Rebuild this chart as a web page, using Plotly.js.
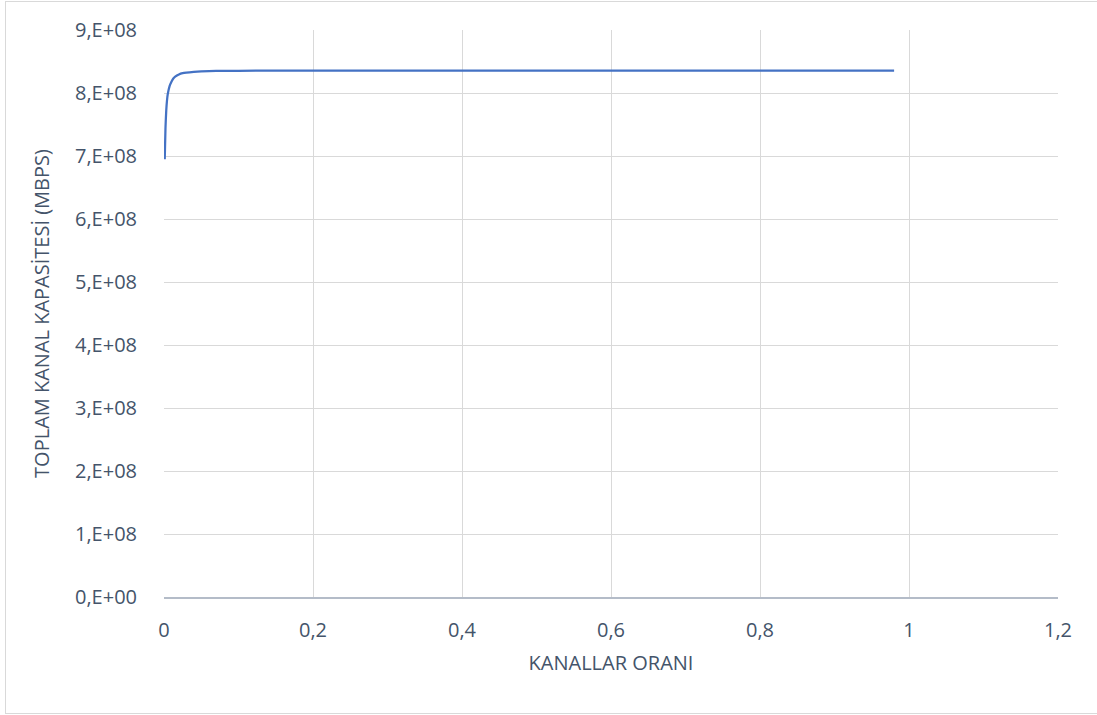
<!DOCTYPE html>
<html>
<head>
<meta charset="utf-8">
<script src="https://cdn.plot.ly/plotly-3.0.1.min.js"></script>
<style>
html,body{margin:0;padding:0;background:#fff;}
#wrap{position:relative;width:1097px;height:715px;}
#chart{position:absolute;left:0;top:0;width:1097px;height:715px;}
#frame{position:absolute;left:5px;top:1px;width:1100px;height:713px;border:1px solid #D9D9D9;pointer-events:none;box-sizing:border-box;}
</style>
</head>
<body>
<div id="wrap"><div id="chart"></div><div id="frame"></div></div>
<script>
// Data
const kanallarOrani = [0.001, 0.002, 0.003, 0.004, 0.005, 0.0075, 0.01, 0.0125, 0.015, 0.02, 0.025, 0.03, 0.04, 0.05, 0.07, 0.1, 0.2, 0.3, 0.4, 0.5, 0.6, 0.7, 0.8, 0.9, 0.98];
const kapasite = [6.95e8, 7.45e8, 7.72e8, 7.88e8, 7.98e8, 8.11e8, 8.18e8, 8.23e8, 8.26e8, 8.295e8, 8.315e8, 8.325e8, 8.337e8, 8.344e8, 8.35e8, 8.353e8, 8.355e8, 8.355e8, 8.355e8, 8.355e8, 8.355e8, 8.355e8, 8.355e8, 8.355e8, 8.355e8];
const yTickVals = [0, 1e8, 2e8, 3e8, 4e8, 5e8, 6e8, 7e8, 8e8, 9e8];
const yTickText = ["0,E+00", "1,E+08", "2,E+08", "3,E+08", "4,E+08", "5,E+08", "6,E+08", "7,E+08", "8,E+08", "9,E+08"];
const xTickVals = [0, 0.2, 0.4, 0.6, 0.8, 1, 1.2];
const xTickText = ["0", "0,2", "0,4", "0,6", "0,8", "1", "1,2"];
const xTitle = "KANALLAR ORANI";
const yTitle = "TOPLAM KANAL KAPASİTESİ (MBPS)";

const textColor = "#44546A";
const fontFam = "'Open Sans', sans-serif";
const fs = 20;

Plotly.newPlot("chart", [{
  x: kanallarOrani,
  y: kapasite,
  type: "scatter",
  mode: "lines",
  line: {color: "#4472C4", width: 2.25, shape: "spline", smoothing: 0.6},
  hoverinfo: "skip"
}], {
  width: 1097,
  height: 715,
  margin: {l: 164, r: 39, t: 30, b: 118},
  paper_bgcolor: "#fff",
  plot_bgcolor: "#fff",
  showlegend: false,
  font: {family: fontFam, size: fs, color: textColor},
  xaxis: {
    range: [0, 1.2],
    tickvals: xTickVals,
    ticktext: xTickText,
    showgrid: true,
    gridcolor: "#D9D9D9",
    gridwidth: 1,
    zeroline: false,
    showline: true,
    linecolor: "#B4BCC8",
    linewidth: 1.5,
    ticks: "outside",
    ticklen: 14,
    tickcolor: "rgba(0,0,0,0)",
    tickfont: {family: fontFam, size: fs, color: textColor},
    title: {text: xTitle, font: {family: fontFam, size: fs, color: textColor}, standoff: 14}
  },
  yaxis: {
    range: [0, 9e8],
    tickvals: yTickVals,
    ticktext: yTickText,
    showgrid: true,
    gridcolor: "#D9D9D9",
    gridwidth: 1,
    zeroline: false,
    showline: false,
    ticks: "outside",
    ticklen: 22,
    tickcolor: "rgba(0,0,0,0)",
    tickfont: {family: fontFam, size: fs, color: textColor},
    title: {text: yTitle, font: {family: fontFam, size: fs, color: textColor}, standoff: 19}
  }
}, {displayModeBar: false, staticPlot: true});
</script>
</body>
</html>
